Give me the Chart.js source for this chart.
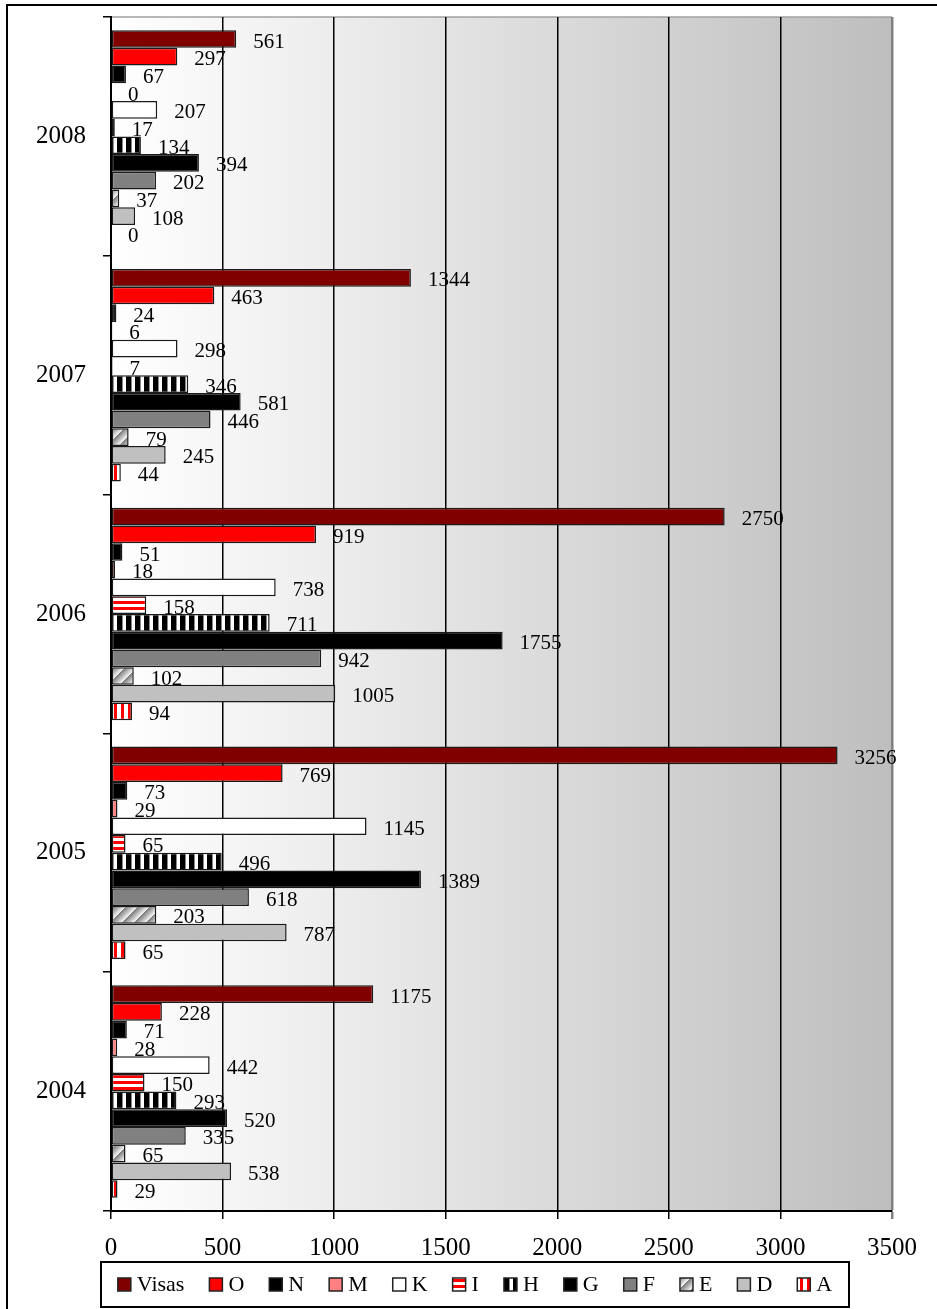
<!DOCTYPE html>
<html>
<head>
<meta charset="utf-8">
<script src="https://cdn.jsdelivr.net/npm/chart.js@4.4.1/dist/chart.umd.min.js"></script>
<style>
  html, body { margin: 0; padding: 0; background: #fff; }
  canvas { display: block; }
</style>
</head>
<body>
<canvas id="visaChart" width="937" height="1309"></canvas>
<script>
// ----- DATA -----
const years = ['2008', '2007', '2006', '2005', '2004'];
const seriesNames = ['Visas', 'O', 'N', 'M', 'K', 'I', 'H', 'G', 'F', 'E', 'D', 'A'];
const visas = [561, 1344, 2750, 3256, 1175];
const typeO = [297, 463, 919, 769, 228];
const typeN = [67, 24, 51, 73, 71];
const typeM = [0, 6, 18, 29, 28];
const typeK = [207, 298, 738, 1145, 442];
const typeI = [17, 7, 158, 65, 150];
const typeH = [134, 346, 711, 496, 293];
const typeG = [394, 581, 1755, 1389, 520];
const typeF = [202, 446, 942, 618, 335];
const typeE = [37, 79, 102, 203, 65];
const typeD = [108, 245, 1005, 787, 538];
const typeA = [0, 44, 94, 65, 29];
const xMax = 3500;
const xStep = 500;

const FONT = '"Liberation Serif", "Times New Roman", serif';

// ----- PATTERNS -----
function makePattern(w, h, paint) {
    const c = document.createElement('canvas');
    c.width = w; c.height = h;
    const cx = c.getContext('2d');
    paint(cx, w, h);
    return cx.createPattern(c, 'repeat');
}

const redHStripes = makePattern(6, 6, (cx) => {
    cx.fillStyle = '#ffffff'; cx.fillRect(0, 0, 6, 6);
    cx.fillStyle = '#ff0000'; cx.fillRect(0, 1, 6, 3);
});
const blackVStripes = makePattern(9, 9, (cx) => {
    cx.fillStyle = '#ffffff'; cx.fillRect(0, 0, 9, 9);
    cx.fillStyle = '#000000'; cx.fillRect(0, 0, 5, 9);
    cx.fillStyle = '#888888'; cx.fillRect(5, 0, 1, 9);
});
const redVStripes = makePattern(7, 7, (cx) => {
    cx.fillStyle = '#ffffff'; cx.fillRect(0, 0, 7, 7);
    cx.fillStyle = '#ff0000'; cx.fillRect(2, 0, 3, 7);
});
const grayDiagonal = makePattern(12, 12, (cx, w, h) => {
    const img = cx.createImageData(w, h);
    for (let y = 0; y < h; y++) {
        for (let x = 0; x < w; x++) {
            const t = ((x + y) % 12) / 12;
            const v = Math.round(125 + 130 * t);
            const k = (y * w + x) * 4;
            img.data[k] = v; img.data[k + 1] = v; img.data[k + 2] = v; img.data[k + 3] = 255;
        }
    }
    cx.putImageData(img, 0, 0);
});

const seriesValues = [visas, typeO, typeN, typeM, typeK, typeI, typeH, typeG, typeF, typeE, typeD, typeA];
const seriesFills = ['#800000', '#ff0000', '#000000', '#ff8080', '#ffffff', redHStripes,
    blackVStripes, '#000000', '#808080', grayDiagonal, '#c0c0c0', redVStripes];

// ----- PLUGINS -----
const plotBackground = {
    id: 'plotBackground',
    beforeDraw(chart) {
        const { ctx, chartArea: a } = chart;
        ctx.save();
        // outer frame (cropped on right/bottom)
        ctx.strokeStyle = '#000';
        ctx.lineWidth = 2;
        ctx.beginPath();
        ctx.moveTo(7, 1309);
        ctx.lineTo(7, 5);
        ctx.lineTo(937, 5);
        ctx.stroke();
        const g = ctx.createLinearGradient(a.left, 0, a.right, 0);
        g.addColorStop(0, '#ffffff');
        g.addColorStop(1, '#bebebe');
        ctx.fillStyle = g;
        ctx.fillRect(a.left, a.top, a.right - a.left, a.bottom - a.top);
        ctx.strokeStyle = '#a0a0a0';
        ctx.lineWidth = 1.5;
        ctx.beginPath();
        ctx.moveTo(a.left, a.top);
        ctx.lineTo(a.right, a.top);
        ctx.stroke();
        ctx.restore();
    }
};

const valueLabels = {
    id: 'valueLabels',
    afterDatasetsDraw(chart) {
        const ctx = chart.ctx;
        ctx.save();
        ctx.font = '21px ' + FONT;
        ctx.fillStyle = '#000';
        ctx.textAlign = 'left';
        ctx.textBaseline = 'middle';
        chart.data.datasets.forEach((ds, i) => {
            chart.getDatasetMeta(i).data.forEach((bar, j) => {
                ctx.fillText(String(ds.data[j]), bar.x + 17, bar.y + 3);
            });
        });
        ctx.restore();
    }
};

const boxLegend = {
    id: 'boxLegend',
    afterDraw(chart) {
        const ctx = chart.ctx;
        const box = { left: 101, top: 1262, right: 849, bottom: 1307 };
        const sq = 13, gapText = 6, gapItem = 25;
        ctx.save();
        ctx.lineWidth = 2;
        ctx.strokeStyle = '#000';
        ctx.fillStyle = '#fff';
        ctx.fillRect(box.left, box.top, box.right - box.left, box.bottom - box.top);
        ctx.strokeRect(box.left, box.top, box.right - box.left, box.bottom - box.top);
        ctx.font = '22px ' + FONT;
        const ds = chart.data.datasets;
        const widths = ds.map(d => sq + gapText + ctx.measureText(d.label).width);
        const total = widths.reduce((s, w) => s + w, 0) + gapItem * (ds.length - 1);
        let x = (box.left + box.right) / 2 - total / 2;
        const cy = (box.top + box.bottom) / 2;
        ctx.textBaseline = 'middle';
        ctx.textAlign = 'left';
        ds.forEach((d, i) => {
            ctx.fillStyle = d.backgroundColor;
            ctx.fillRect(x, cy - sq / 2, sq, sq);
            ctx.lineWidth = 1.5;
            ctx.strokeStyle = '#222';
            ctx.strokeRect(x, cy - sq / 2, sq, sq);
            ctx.fillStyle = '#000';
            ctx.fillText(d.label, x + sq + gapText, cy + 1);
            x += widths[i] + gapItem;
        });
        ctx.restore();
    }
};

// ----- CHART -----
const ctx = document.getElementById('visaChart').getContext('2d');
new Chart(ctx, {
    type: 'bar',
    data: {
        labels: years,
        datasets: seriesNames.map((name, i) => ({
            label: name,
            data: seriesValues[i],
            backgroundColor: seriesFills[i],
            borderColor: '#1a1a1a',
            borderWidth: 1.5,
            borderSkipped: false,
            categoryPercentage: 0.89,
            barPercentage: 1.0
        }))
    },
    options: {
        indexAxis: 'y',
        responsive: false,
        maintainAspectRatio: false,
        animation: false,
        layout: { padding: { left: 0, top: 17, right: 45, bottom: 0 } },
        plugins: {
            legend: { display: false },
            tooltip: { enabled: false }
        },
        scales: {
            x: {
                min: 0,
                max: xMax,
                afterFit(scale) {
                    scale.height = 98;
                    scale.paddingLeft = 0;
                    scale.paddingRight = 0;
                },
                ticks: {
                    stepSize: xStep,
                    color: '#000',
                    padding: 14,
                    maxRotation: 0,
                    callback: (v) => String(v),
                    font: { family: FONT, size: 25 }
                },
                grid: {
                    color: (c) => (c.tick && c.tick.value === xMax) ? '#808080' : '#000',
                    lineWidth: (c) => (c.tick && c.tick.value === xMax) ? 2.5 : 1.5,
                    tickLength: 8,
                    drawTicks: true
                },
                border: { color: '#000', width: 2 }
            },
            y: {
                afterFit(scale) {
                    scale.width = 111;
                    scale.paddingTop = 0;
                    scale.paddingBottom = 0;
                },
                ticks: {
                    color: '#000',
                    padding: 17,
                    font: { family: FONT, size: 25 }
                },
                grid: {
                    offset: true,
                    drawOnChartArea: false,
                    color: '#000',
                    lineWidth: 1.5,
                    tickLength: 8
                },
                border: { color: '#000', width: 2 }
            }
        }
    },
    plugins: [plotBackground, valueLabels, boxLegend]
});
</script>
</body>
</html>
